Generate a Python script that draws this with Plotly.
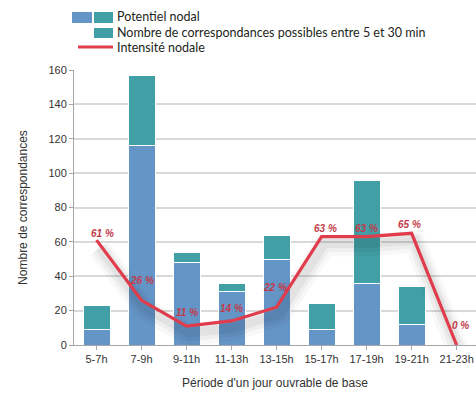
import plotly.graph_objects as go

# Time slots of a working day
periodes = ["5-7h", "7-9h", "9-11h", "11-13h", "13-15h", "15-17h", "17-19h", "19-21h", "21-23h"]
# Total nodal potential (number of connections)
potentiel = [23, 157, 54, 36, 64, 24, 96, 34, 0]
# Connections possible between 5 and 30 min
correspondances = [14, 41, 6, 5, 14, 15, 60, 22, 0]
# Nodal intensity (%)
intensite = [61, 26, 11, 14, 22, 63, 63, 65, 0]
# vertical / horizontal offset (px) of each percentage label from its point
label_shift = [7, 20, 14, 12, 20, 8, 8, 9, 20]
label_xshift = [6, 0, 0, 0, -2, 4, 0, -2, 4]

BLUE = "#6495c7"
TEAL = "#41a0a5"
RED = "#e03c4c"
LABEL_RED = "#c23a4a"
FONT = "Liberation Sans, Arial, sans-serif"
LEG_FONT = "Lato, sans-serif"

x = list(range(len(periodes)))
reste = [p - c for p, c in zip(potentiel, correspondances)]

fig = go.Figure()

fig.add_trace(go.Bar(
    x=x, y=reste, marker=dict(color=BLUE, line=dict(color="white", width=1)),
    width=0.6, showlegend=False, hoverinfo="skip"))
fig.add_trace(go.Bar(
    x=x, y=correspondances, marker=dict(color=TEAL, line=dict(color="white", width=1)),
    width=0.6, showlegend=False, hoverinfo="skip"))

# soft drop shadow under the intensity line
for w, op, dy in [(22, 0.025, 5.0), (15, 0.035, 4.5), (9, 0.045, 4.0)]:
    fig.add_trace(go.Scatter(
        x=[v + 0.06 for v in x], y=[v - dy for v in intensite], mode="lines",
        line=dict(color="black", width=w), opacity=op,
        showlegend=False, hoverinfo="skip"))

fig.add_trace(go.Scatter(
    x=x, y=intensite, mode="lines", line=dict(color=RED, width=3.2),
    showlegend=False, hoverinfo="skip"))

for xi, v, dy, dx in zip(x, intensite, label_shift, label_xshift):
    fig.add_annotation(
        x=xi, y=v, text=f"{v} %", showarrow=False, yshift=dy, xshift=dx,
        font=dict(family=FONT, size=10, color=LABEL_RED, style="italic", weight="bold"))

# custom legend (pixel positions converted to paper coordinates)
L, R_, T, B = 74, 476, 70, 345


def pxx(p):
    return (p - L) / (R_ - L)


def pxy(p):
    return (B - p) / (B - T)


legend_boxes = [
    (72, 12, 92, 23, BLUE),
    (94, 12, 113, 23, TEAL),
    (94, 28, 113, 38, TEAL),
]
shapes = []
for x0, y0, x1, y1, c in legend_boxes:
    shapes.append(dict(type="rect", xref="paper", yref="paper",
                       x0=pxx(x0), x1=pxx(x1), y0=pxy(y0), y1=pxy(y1),
                       fillcolor=c, line=dict(width=0), layer="above"))
shapes.append(dict(type="line", xref="paper", yref="paper",
                   x0=pxx(78), x1=pxx(113), y0=pxy(47), y1=pxy(47),
                   line=dict(color=RED, width=3), layer="above"))
legend_texts = [("Potentiel nodal", 16),
                ("Nombre de correspondances possibles entre 5 et 30 min", 32),
                ("Intensité nodale", 47.5)]
for t, yy in legend_texts:
    fig.add_annotation(xref="paper", yref="paper", x=pxx(116), y=pxy(yy),
                       xanchor="left", yanchor="middle", text=t, showarrow=False,
                       borderpad=0,
                       font=dict(family=LEG_FONT, size=12.5, color="#231f20"))

fig.update_layout(
    width=476, height=394,
    margin=dict(l=L, r=0, t=T, b=394 - B),
    barmode="stack", bargap=0.4,
    plot_bgcolor="white", paper_bgcolor="white",
    shapes=shapes,
    font=dict(family=FONT, size=11, color="#333333"),
    xaxis=dict(
        range=[-0.5, 8.43], tickvals=x, ticktext=periodes,
        showgrid=False, showline=True, linecolor="#a6a6a6", linewidth=1,
        ticks="outside", tickson="boundaries", ticklen=4, tickcolor="#a6a6a6",
        tickfont=dict(size=11, color="#333333"),
        title=dict(text="Période d'un jour ouvrable de base", standoff=14,
                   font=dict(size=12, color="#333333")),
    ),
    yaxis=dict(
        range=[0, 160], dtick=20, showgrid=True, gridcolor="#d9d9d9", gridwidth=1.5,
        showline=True, linecolor="#a6a6a6", linewidth=1,
        ticks="outside", ticklen=4, tickcolor="#a6a6a6", zeroline=False,
        tickfont=dict(size=11, color="#333333"),
        title=dict(text="Nombre de correspondances", standoff=18,
                   font=dict(size=12, color="#333333")),
    ),
)

fig.write_html("out.html")
